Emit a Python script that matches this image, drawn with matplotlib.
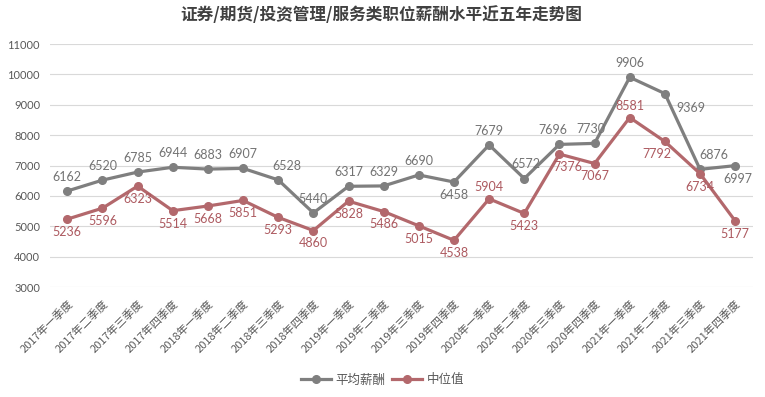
import matplotlib
matplotlib.use('Agg')
import matplotlib.pyplot as plt
import numpy as np

plt.rcParams['font.family'] = ['Noto Sans CJK SC', 'DejaVu Sans']

quarters = ['2017年一季度', '2017年二季度', '2017年三季度', '2017年四季度',
            '2018年一季度', '2018年二季度', '2018年三季度', '2018年四季度',
            '2019年一季度', '2019年二季度', '2019年三季度', '2019年四季度',
            '2020年一季度', '2020年二季度', '2020年三季度', '2020年四季度',
            '2021年一季度', '2021年二季度', '2021年三季度', '2021年四季度']
avg_pay = [6162, 6520, 6785, 6944, 6883, 6907, 6528, 5440, 6317, 6329,
           6690, 6458, 7679, 6572, 7696, 7730, 9906, 9369, 6876, 6997]
median_pay = [5236, 5596, 6323, 5514, 5668, 5851, 5293, 4860, 5828, 5486,
              5015, 4538, 5904, 5423, 7376, 7067, 8581, 7792, 6734, 5177]
yticks = [3000, 4000, 5000, 6000, 7000, 8000, 9000, 10000, 11000]

# label offsets in points (dx, dy)
avg_off = [(0, 6), (0, 6), (0, 6), (0, 6), (0, 6), (0, 6), (6, 6), (0, 6),
           (0, 6), (0, 6), (0, 6), (0, -5), (0, 6), (1, 6), (-5, 6), (-3, 6),
           (0, 6), (19, -6), (10, 6), (2, -5)]
med_off = [(0, -5), (0, -5), (0, -5), (0, -5), (0, -5), (0, -5), (0, -5), (0, -5),
           (0, -5), (0, -5), (0, -5), (0, -5), (0, 4), (0, -5), (6, -5), (0, -5),
           (0, 4), (-6, -5), (0, -5), (0, -5)]

gray = '#7f7f7f'
red = '#b3686c'

fig = plt.figure(figsize=(7.65, 3.97), dpi=100)
ax = fig.add_axes([0.065, 0.277, 0.919, 0.612])
x = np.arange(len(quarters))

ax.plot(x, avg_pay, color=gray, lw=2.3, marker='o', ms=5.5, label='平均薪酬', zorder=3)
ax.plot(x, median_pay, color=red, lw=2.3, marker='o', ms=5.5, label='中位值', zorder=3)

for i in range(len(x)):
    dx, dy = avg_off[i]
    ax.annotate(str(avg_pay[i]), (x[i], avg_pay[i]), xytext=(dx, dy), textcoords='offset points',
                ha='center', va='bottom' if dy > 0 else 'top', fontsize=9, color='#737373',
                family=['Lato', 'DejaVu Sans'])
    dx, dy = med_off[i]
    ax.annotate(str(median_pay[i]), (x[i], median_pay[i]), xytext=(dx, dy), textcoords='offset points',
                ha='center', va='bottom' if dy > 0 else 'top', fontsize=9, color='#ad5a60',
                family=['Lato', 'DejaVu Sans'])

ax.set_xlim(-0.5, len(quarters) - 0.5)
ax.set_ylim(3000, 11000)
ax.set_yticks(yticks)
ax.set_yticklabels([str(v) for v in yticks], fontsize=8, color='#595959',
                   family=['Lato', 'DejaVu Sans'])
ax.set_xticks(x)
ax.set_xticklabels(quarters, rotation=45, ha='right', rotation_mode='anchor',
                   fontsize=8, color='#595959')
ax.tick_params(axis='both', length=0)
ax.tick_params(axis='x', pad=8)
ax.tick_params(axis='y', pad=7)
ax.grid(axis='y', color='#d9d9d9', lw=0.8)
ax.set_axisbelow(True)
for s in ax.spines.values():
    s.set_visible(False)

fig.text(0.498, 0.962, '证券/期货/投资管理/服务类职位薪酬水平近五年走势图', ha='center', va='center',
         fontsize=12, fontweight='bold', color='#404040')

fig.legend(loc='center', bbox_to_anchor=(0.5, 0.043), ncol=2, frameon=False, fontsize=9,
           handlelength=2.4, columnspacing=0.5, handletextpad=0.4, labelcolor='#595959')

fig.savefig('out.png', dpi=100)
